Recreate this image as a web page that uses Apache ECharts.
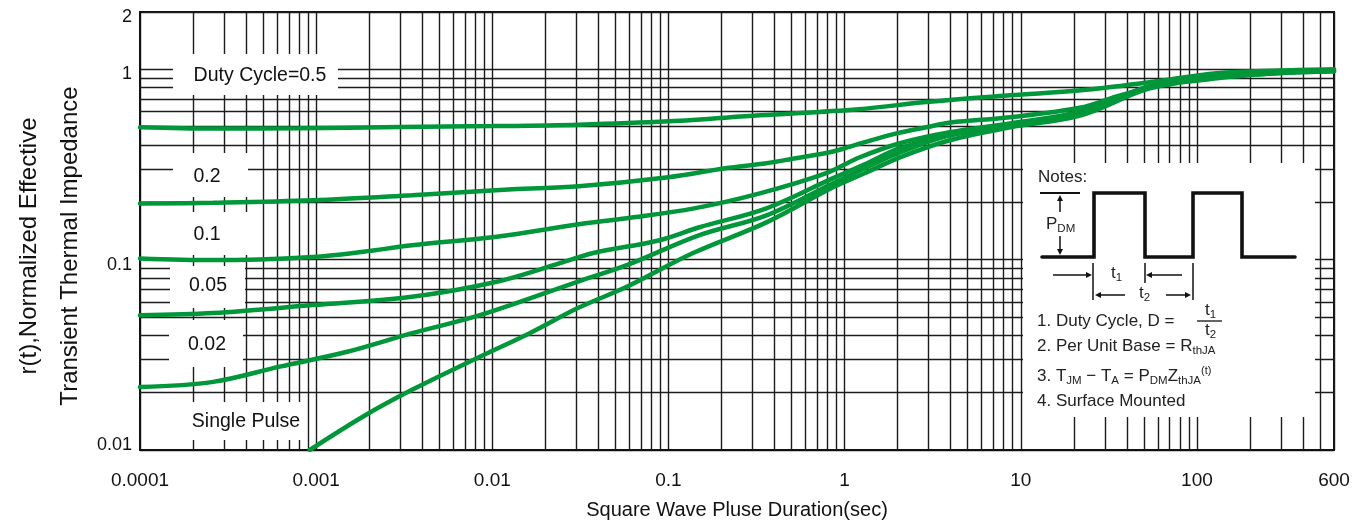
<!DOCTYPE html>
<html>
<head>
<meta charset="utf-8">
<title>Transient Thermal Impedance</title>
<script src="https://cdn.jsdelivr.net/npm/echarts@6/dist/echarts.min.js"></script>
<style>
  html, body { margin: 0; padding: 0; background: #fff; }
  #chart { width: 1369px; height: 528px; }
</style>
</head>
<body>
<div id="chart"></div>
<script>
// tick labels on the two log axes
const xTickLabels = ['0.0001', '0.001', '0.01', '0.1', '1', '10', '100', '600'];
const yTickLabels = ['0.01', '0.1', '1', '2'];

// curves: [square wave pulse duration (s), r(t)]
const dutyHalf = [
  [1e-4, 0.496], [2.6e-4, 0.488], [8e-4, 0.49], [3e-3, 0.498], [0.01, 0.503],
  [0.031, 0.512], [0.1, 0.533], [0.33, 0.573], [1.2, 0.617], [2.9, 0.673],
  [8.7, 0.73], [22, 0.776], [54, 0.855], [130, 0.953], [300, 0.985], [600, 1.0]
];
const dutyFifth = [
  [1e-4, 0.197], [2.6e-4, 0.199], [9.6e-4, 0.205], [3.5e-3, 0.218], [0.013, 0.234],
  [0.031, 0.243], [0.1, 0.271], [0.21, 0.302], [0.36, 0.321], [0.5, 0.338],
  [0.86, 0.37], [1.3, 0.414], [2.0, 0.462], [2.9, 0.496], [4, 0.525], [8.7, 0.56],
  [22, 0.63], [35, 0.72], [54, 0.8], [104, 0.897], [300, 0.967], [600, 0.99]
];
const dutyTenth = [
  [1e-4, 0.1015], [2.6e-4, 0.0995], [9.6e-4, 0.1034], [1.85e-3, 0.11], [3.5e-3, 0.119],
  [0.0106, 0.132], [0.031, 0.1535], [0.058, 0.165], [0.14, 0.186], [0.33, 0.223],
  [0.78, 0.284], [1.22, 0.345], [2.06, 0.409], [3.95, 0.467], [8.7, 0.52],
  [22, 0.6], [54, 0.815], [130, 0.918], [300, 0.964], [600, 0.99]
];
const dutyTwentieth = [
  [1e-4, 0.0511], [2.6e-4, 0.0524], [9.6e-4, 0.0577], [3.5e-3, 0.0638], [0.0106, 0.0765],
  [0.024, 0.0955], [0.037, 0.108], [0.089, 0.1265], [0.15, 0.148], [0.36, 0.186],
  [0.86, 0.268], [1.34, 0.321], [2.06, 0.385], [3.95, 0.451], [9.5, 0.508],
  [22, 0.6], [54, 0.81], [130, 0.915], [300, 0.962], [600, 0.985]
];
const dutyFiftieth = [
  [1e-4, 0.0214], [2.6e-4, 0.0228], [6.2e-4, 0.0274], [1.5e-3, 0.0328], [3.5e-3, 0.0411],
  [8.5e-3, 0.0511], [0.031, 0.077], [0.058, 0.0935], [0.15, 0.1345], [0.36, 0.171],
  [0.86, 0.252], [1.34, 0.306], [2.06, 0.366], [3.95, 0.45], [8.7, 0.505],
  [22, 0.587], [54, 0.804], [130, 0.906], [300, 0.955], [600, 0.976]
];
const singlePulse = [
  [9.2e-4, 0.01], [1.85e-3, 0.015], [3.5e-3, 0.0207], [8.5e-3, 0.0309], [0.0163, 0.0411],
  [0.031, 0.056], [0.058, 0.072], [0.137, 0.108], [0.36, 0.157], [0.86, 0.24],
  [1.34, 0.288], [2.06, 0.345], [3.95, 0.424], [8.7, 0.496], [22, 0.573],
  [54, 0.794], [130, 0.897], [300, 0.955], [600, 0.976]
];
const curveNames = ['0.5', '0.2', '0.1', '0.05', '0.02', 'Single Pulse'];
const curves = [dutyHalf, dutyFifth, dutyTenth, dutyTwentieth, dutyFiftieth, singlePulse];

const FONT = '"Liberation Sans", Arial, Helvetica, sans-serif';
const INK = '#111';
const GREEN = '#00963a';
const GRID = '#1c1c1c';

const xMin = +xTickLabels[0], xMax = +xTickLabels[xTickLabels.length - 1];
const yMin = +yTickLabels[0], yMax = +yTickLabels[yTickLabels.length - 1];

// 2..9 x decade grid lines of the log paper
function minorLines(lo, hi, top) {
  const out = [];
  for (let e = Math.floor(Math.log10(lo)); Math.pow(10, e) < top; e++) {
    for (let m = 2; m <= 9; m++) {
      const v = +(m * Math.pow(10, e)).toPrecision(3);
      if (v > lo && v < Math.min(hi, top)) out.push(v);
    }
  }
  return out;
}
const xMinor = minorLines(xMin, xMax, xMax);
const yMinor = minorLines(yMin, yMax, 1);

const fmt = v => String(+(+v).toPrecision(4));

// label boxes on the left (white patches over the grid)
function tag(text, cx, cy, box) {
  return [
    { type: 'rect', z: 40, silent: true, shape: box, style: { fill: '#fff' } },
    { type: 'text', z: 41, silent: true, x: cx, y: cy,
      style: { text, fill: INK, font: '19.5px ' + FONT, align: 'center', verticalAlign: 'middle' } }
  ];
}

const rich = {
  s: { fontSize: 11.5, fontFamily: FONT, fill: '#222', verticalAlign: 'bottom' },
  p: { fontSize: 11, fontFamily: FONT, fill: '#222', verticalAlign: 'top' }
};
function note(text, x, y) {
  return { type: 'text', z: 81, silent: true, x, y,
    style: { text, rich, fill: '#222', font: '17px ' + FONT, lineHeight: 22,
      align: 'left', verticalAlign: 'middle' } };
}
function seg(pts, w) {
  return { type: 'polyline', z: 81, silent: true, shape: { points: pts },
    style: { stroke: '#111', lineWidth: w || 1.5, fill: null } };
}
// arrow head with tip at (x, y), pointing dir: 'l','r','u','d'
function head(x, y, dir) {
  const L = 6, H = 3;
  const pts = {
    r: [[x, y], [x - L, y - H], [x - L, y + H]],
    l: [[x, y], [x + L, y - H], [x + L, y + H]],
    u: [[x, y], [x - H, y + L], [x + H, y + L]],
    d: [[x, y], [x - H, y - L], [x + H, y - L]]
  }[dir];
  return { type: 'polygon', z: 81, silent: true, shape: { points: pts }, style: { fill: '#111' } };
}

const notes = [
  { type: 'rect', z: 80, silent: true, shape: { x: 1023, y: 163, width: 292, height: 254 }, style: { fill: '#fff' } },
  note('Notes:', 1038, 177),
  // pulse train
  { type: 'polyline', z: 81, silent: true,
    shape: { points: [[1042, 257], [1094, 257], [1094, 193], [1145, 193], [1145, 257], [1193, 257],
      [1193, 193], [1242, 193], [1242, 257], [1295, 257]] },
    style: { stroke: '#111', lineWidth: 3.6, fill: null, lineCap: 'round', lineJoin: 'miter' } },
  seg([[1040, 193], [1080, 193]], 2),
  seg([[1060, 200], [1060, 212]]), head(1060, 195, 'u'),
  seg([[1060, 236], [1060, 250]]), head(1060, 255, 'd'),
  note('P{s|DM}', 1046, 224),
  // t1 / t2 dimension marks
  seg([[1093, 263], [1093, 300]]), seg([[1145, 263], [1145, 283]]), seg([[1193, 263], [1193, 300]]),
  seg([[1053, 275], [1088, 275]]), head(1092, 275, 'r'),
  seg([[1151, 275], [1182, 275]]), head(1146, 275, 'l'),
  note('t{s|1}', 1111, 273),
  seg([[1100, 295], [1125, 295]]), head(1095, 295, 'l'),
  seg([[1166, 295], [1186, 295]]), head(1191, 295, 'r'),
  note('t{s|2}', 1139, 293),
  // numbered notes
  note('1. Duty Cycle, D =', 1037, 321),
  note('t{s|1}', 1205, 310),
  seg([[1197, 321], [1222, 321]], 1.3),
  note('t{s|2}', 1205, 330),
  note('2. Per Unit Base = R{s|thJA}', 1037, 346),
  note('3. T{s|JM} \u2212 T{s|A} = P{s|DM}Z{s|thJA}{p|(t)}', 1037, 376),
  note('4. Surface Mounted', 1037, 401)
];

const labels = [].concat(
  tag('Duty Cycle=0.5', 260, 76, { x: 173, y: 54, width: 165, height: 41 }),
  tag('0.2', 207, 177, { x: 173, y: 153, width: 75, height: 44 }),
  tag('0.1', 207, 235, { x: 173, y: 212, width: 82, height: 43 }),
  tag('0.05', 208, 286, { x: 170, y: 266, width: 75, height: 42 }),
  tag('0.02', 207, 345, { x: 169, y: 320, width: 74, height: 47 }),
  tag('Single Pulse', 246, 422, { x: 145, y: 402, width: 162, height: 38 })
);

const axisTitles = [
  { type: 'text', silent: true, x: 29, y: 246, rotation: Math.PI / 2,
    style: { text: 'r(t),Normalized Effective', fill: INK, font: '24px ' + FONT, align: 'center', verticalAlign: 'middle' } },
  { type: 'text', silent: true, x: 70, y: 246, rotation: Math.PI / 2,
    style: { text: 'Transient Thermal Impedance', fill: INK, font: '24px ' + FONT, align: 'center', verticalAlign: 'middle' } }
];

const chart = echarts.init(document.getElementById('chart'), null, { renderer: 'canvas' });

// minor grid of the log paper, placed through the axes as mark lines
const gridSeries = {
  type: 'line', name: 'grid', data: [], z: 1, silent: true,
  markLine: {
    silent: true, symbol: ['none', 'none'], animation: false, precision: 12,
    label: { show: false }, emphasis: { disabled: true },
    lineStyle: { color: GRID, width: 1.4, type: 'solid' },
    data: xMinor.map(v => ({ xAxis: v })).concat(yMinor.map(v => ({ yAxis: v })))
  }
};

const yRich = {
  hi: { fontSize: 18, fontFamily: FONT, color: INK, padding: [10, 0, 0, 0] },
  lo: { fontSize: 18, fontFamily: FONT, color: INK, padding: [0, 0, 10, 0] }
};

chart.setOption({
  animation: false,
  backgroundColor: '#fff',
  grid: { left: 140, right: 35, top: 12, bottom: 78, show: true, borderColor: INK, borderWidth: 2, backgroundColor: 'transparent' },
  xAxis: {
    type: 'log', logBase: 10, min: xMin, max: xMax,
    name: 'Square Wave Pluse Duration(sec)', nameLocation: 'middle', nameGap: 50,
    nameTextStyle: { color: INK, fontSize: 20, fontFamily: FONT },
    axisLine: { show: true, lineStyle: { color: INK, width: 2 } },
    axisTick: { show: false },
    axisLabel: { color: INK, fontSize: 19, fontFamily: FONT, margin: 21, showMinLabel: true, showMaxLabel: true, formatter: fmt },
    splitLine: { show: true, lineStyle: { color: GRID, width: 1.4 } },
    minorSplitLine: { show: false }
  },
  yAxis: {
    type: 'log', logBase: 10, min: yMin, max: yMax,
    axisLine: { show: true, lineStyle: { color: INK, width: 2 } },
    axisTick: { show: false },
    axisLabel: {
      color: INK, fontSize: 18, fontFamily: FONT, margin: 8, showMinLabel: true, showMaxLabel: true,
      formatter: v => (+v <= yMin ? '{lo|' : '{hi|') + fmt(v) + '}', rich: yRich
    },
    splitLine: { show: true, lineStyle: { color: GRID, width: 1.4 } }
  },
  graphic: { elements: axisTitles.concat(labels, notes) },
  series: [gridSeries].concat(curves.map((d, i) => ({
    type: 'line', name: curveNames[i], data: d, z: 60,
    smooth: 0.35, showSymbol: false, symbol: 'none',
    lineStyle: { color: GREEN, width: 4.5, cap: 'round' },
    emphasis: { disabled: true }
  })))
});
</script>
</body>
</html>
